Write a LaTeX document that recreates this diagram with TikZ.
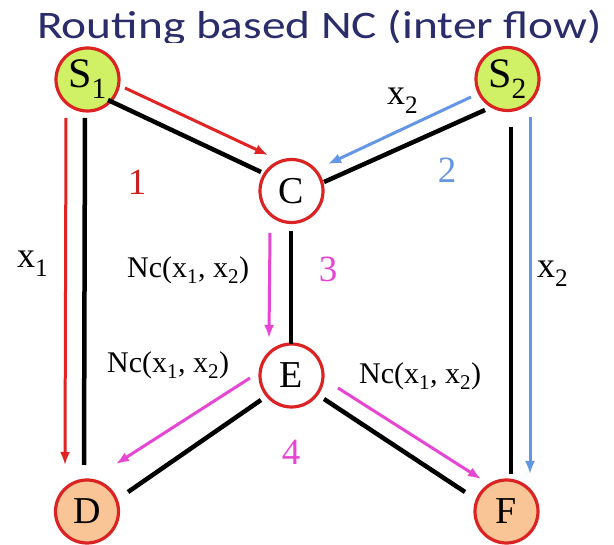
\documentclass[tikz,border=0pt]{standalone}
\usepackage{fontspec}
\setmainfont{Liberation Serif}
\newfontfamily\timesfont{Liberation Serif}
\newfontfamily\titlefont{Carlito}
\usetikzlibrary{calc,arrows.meta}
\definecolor{titlenavy}{RGB}{42,45,105}
\definecolor{nodered}{RGB}{220,35,35}
\definecolor{sgreen}{RGB}{208,240,102}
\definecolor{dorange}{RGB}{249,196,150}
\definecolor{flowred}{RGB}{225,35,35}
\definecolor{flowblue}{RGB}{100,150,230}
\definecolor{flowmag}{RGB}{230,70,210}
\begin{document}
\begin{tikzpicture}[x=1pt,y=-1pt,
  netnode/.style={circle,draw=nodered,line width=3.2pt,minimum size=63pt,inner sep=0pt,fill=white,font=\timesfont\fontsize{38}{38}\selectfont},
  srcnode/.style={netnode,fill=sgreen,font=\timesfont\fontsize{42}{42}\selectfont},
  dstnode/.style={netnode,fill=dorange},
  link/.style={line width=4.5pt,black},
  flow/.style={line width=3pt,-{Latex[length=13pt,width=10pt]}},
  xlab/.style={font=\timesfont\fontsize{36}{36}\selectfont,inner sep=0pt,anchor=base west},
  nclab/.style={font=\timesfont\fontsize{30}{30}\selectfont,inner sep=0pt,anchor=base west},
  numlab/.style={font=\timesfont\fontsize{37}{37}\selectfont,inner sep=0pt,anchor=base}]
\useasboundingbox[fill=white] (0,0) rectangle (614,545);

% title (descenders cut by the picture below)
\begin{scope}
  \clip (0,0) rectangle (614,43);
  \node[anchor=base west,inner sep=0pt,text=titlenavy,font=\titlefont\fontsize{39}{39}\selectfont] (title) at (37,39)
    {\scalebox{1.215}[1]{Routing based NC (inter flow)}};
\end{scope}

% nodes
\node[srcnode] (S1) at (87.5,79.5) {S\textsubscript{1}};
\node[srcnode] (S2) at (507.5,79) {S\textsubscript{2}};
\node[netnode] (C) at (291.5,191) {C};
\node[netnode] (E) at (291.5,375.5) {E};
\node[dstnode] (D) at (87,511.5) {D};
\node[dstnode] (F) at (506.5,511.5) {F};

% black links
\draw[link] ($(S1)+(20.5,20.5)$) -- ($(C)+(-30.5,-19)$);
\draw[link] ($(S2)+(-22.5,31)$) -- ($(C)+(32.5,-9)$);
\draw[link] ($(S1)+(-2.5,38.5)$) -- ($(D)+(-3,-46.5)$);
\draw[link] ($(S2)+(3.5,48)$) -- ($(F)+(4.5,-37.5)$);
\draw[link] ($(C)+(-0.5,40)$) -- ($(E)+(-0.5,-31.5)$);
\draw[link] ($(E)+(-30.5,24.5)$) -- ($(D)+(41,-19.5)$);
\draw[link] ($(E)+(32.5,23.5)$) -- ($(F)+(-41.5,-19.5)$);

% flows
\draw[flow,flowred] ($(S1)+(-21.5,38.5)$) -- ($(D)+(-22,-46.5)$);
\draw[flow,flowred] ($(S1)+(37.5,8.5)$) -- ($(C)+(-23.5,-36)$);
\draw[flow,flowblue] ($(S2)+(-36.5,18)$) -- ($(C)+(36.5,-27)$);
\draw[flow,flowblue] ($(S2)+(22.5,38)$) -- ($(F)+(23.5,-37.5)$);
\draw[flow,flowmag] ($(C)+(-21.5,42)$) -- ($(E)+(-22.5,-37.5)$);
\draw[flow,flowmag] ($(E)+(-41.5,2.5)$) -- ($(D)+(29,-47.5)$);
\draw[flow,flowmag] ($(E)+(46.5,12.5)$) -- ($(F)+(-25.5,-32.5)$);

% labels
\node[xlab] (lx1) at (17,268) {x\textsubscript{1}};
\node[xlab] (lx2r) at (537,278) {x\textsubscript{2}};
\node[xlab] (lx2t) at (387,105) {x\textsubscript{2}};
\node[nclab] (nc1) at (127,278) {Nc(x\textsubscript{1}, x\textsubscript{2})};
\node[nclab] (nc2) at (107,373) {Nc(x\textsubscript{1}, x\textsubscript{2})};
\node[nclab] (nc3) at (359,384) {Nc(x\textsubscript{1}, x\textsubscript{2})};

% numbers
\node[numlab,text=flowred!90!black] (n1) at (137,195) {1};
\node[numlab,text=flowblue] (n2) at (447,183) {2};
\node[numlab,text=flowmag] (n3) at (328,282) {3};
\node[numlab,text=flowmag] (n4) at (291,465) {4};
\end{tikzpicture}
\end{document}
